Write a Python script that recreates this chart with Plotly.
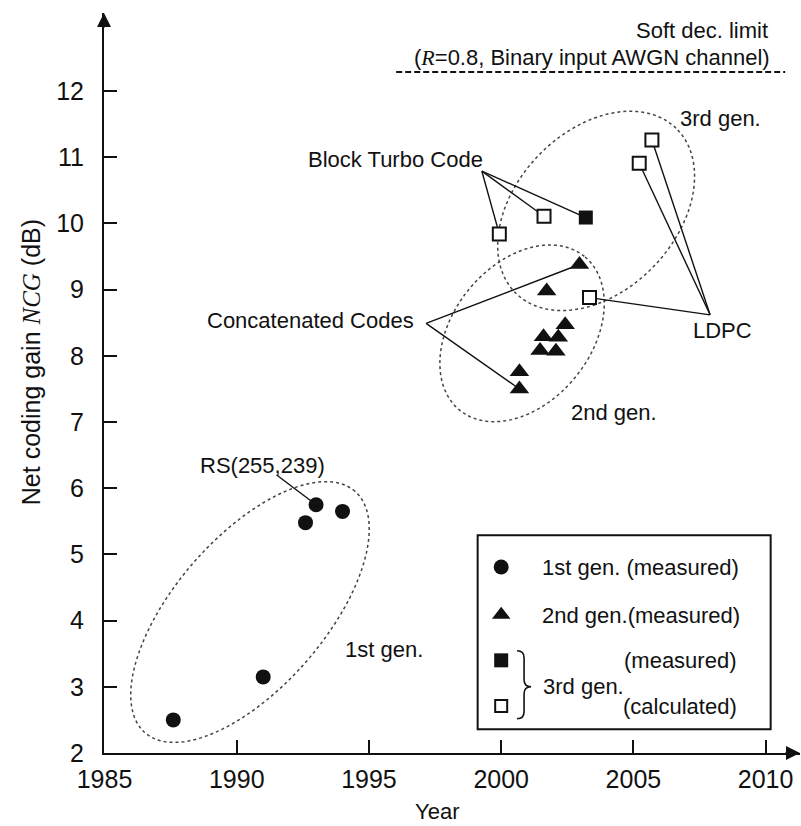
import numpy as np
import plotly.graph_objects as go

# ---------------- data ----------------
gen1_year = [1987.6, 1991.0, 1992.6, 1993.0, 1994.0]
gen1_ncg = [2.50, 3.15, 5.48, 5.75, 5.65]

gen2_year = [2002.96, 2001.72, 2002.42, 2001.60, 2002.16, 2001.47, 2002.07, 2000.69, 2000.69]
gen2_ncg = [9.38, 8.98, 8.47, 8.29, 8.28, 8.08, 8.07, 7.76, 7.50]

gen3_meas_year = [2003.20]
gen3_meas_ncg = [10.09]

gen3_calc_year = [1999.93, 2001.62, 2003.34, 2005.22, 2005.70]
gen3_calc_ncg = [9.84, 10.11, 8.88, 10.91, 11.26]

soft_limit_ncg = 12.29
soft_limit_years = [1996.03, 2010.74]

x_ticks = [1985, 1990, 1995, 2000, 2005, 2010]
y_ticks = list(range(2, 13))

# ---------------- geometry ----------------
W, H = 801, 826
M_L, M_R, M_T, M_B = 104, 1, 13, 73
X_RANGE = [1984.98, 2011.30]
Y_RANGE = [2.0, 13.18]
PX_PER_YEAR = (W - M_L - M_R) / (X_RANGE[1] - X_RANGE[0])
PX_PER_DB = (H - M_T - M_B) / (Y_RANGE[1] - Y_RANGE[0])

FONT = "Liberation Sans, Arial, sans-serif"
SERIF = "Liberation Serif, Times New Roman, serif"
INK = "#111111"


def ellipse_path(cx, cy, a_px, b_px, ang_deg, n=160):
    """Closed SVG path of a rotated ellipse, sized in screen pixels."""
    t = np.linspace(0, 2 * np.pi, n)
    th = np.radians(ang_deg)
    dx = a_px * np.cos(t) * np.cos(th) - b_px * np.sin(t) * np.sin(th)
    dy = a_px * np.cos(t) * np.sin(th) + b_px * np.sin(t) * np.cos(th)
    xs = cx + dx / PX_PER_YEAR
    ys = cy + dy / PX_PER_DB
    pts = [f"{x:.4f},{y:.4f}" for x, y in zip(xs, ys)]
    return "M" + " L".join(pts) + " Z"


def off(x, y, dx_px, dy_px):
    """Point shifted by a screen-pixel offset (dy up)."""
    return x + dx_px / PX_PER_YEAR, y + dy_px / PX_PER_DB


fig = go.Figure()

# group outlines (dotted ellipses)
shapes = []
for cx, cy, a, b, ang in [
    (1990.50, 4.13, 160, 75, 49),
    (2000.79, 8.34, 99, 69, 51),
    (2003.59, 10.19, 115, 80, 46),
]:
    shapes.append(dict(type="path", path=ellipse_path(cx, cy, a, b, ang),
                       line=dict(color="#444", width=1.5, dash="dot"),
                       layer="below"))

# leader lines from labels to marks
leaders = [
    ((1999.27, 10.79), [(gen3_calc_year[0], gen3_calc_ncg[0]),
                        (gen3_calc_year[1], gen3_calc_ncg[1]),
                        (gen3_meas_year[0], gen3_meas_ncg[0])]),
    ((1997.16, 8.49), [(gen2_year[0], gen2_ncg[0]),
                       (gen2_year[8], gen2_ncg[8])]),
    ((2007.90, 8.62), [(gen3_calc_year[2], gen3_calc_ncg[2]),
                       (gen3_calc_year[3], gen3_calc_ncg[3]),
                       (gen3_calc_year[4], gen3_calc_ncg[4])]),
    ((1991.51, 6.20), [(gen1_year[3], gen1_ncg[3])]),
]
for (ax_, ay_), targets in leaders:
    for tx, ty in targets:
        shapes.append(dict(type="line", x0=ax_, y0=ay_, x1=tx, y1=ty,
                           line=dict(color=INK, width=1.4), layer="below"))

# soft-decision limit
shapes.append(dict(type="line", x0=soft_limit_years[0], x1=soft_limit_years[1],
                   y0=soft_limit_ncg, y1=soft_limit_ncg,
                   line=dict(color=INK, width=2, dash="6px,3px")))

# legend frame
shapes.append(dict(type="rect", x0=1999.11, x1=2010.19, y0=2.36, y1=5.29,
                   line=dict(color=INK, width=2), fillcolor="white", layer="below"))

# brace grouping the two 3rd-gen legend entries
bx, by = 2001.13, 3.00
brace_pts = [(-14, 36), (-7, 36), (-7, 29), (-7, 7), (-7, 0), (0, 0),
             (-7, 0), (-7, -7), (-7, -25), (-7, -32), (-14, -32)]
bp = [off(bx, by, dx, dy) for dx, dy in brace_pts]
f = lambda p: f"{p[0]:.4f},{p[1]:.4f}"
brace = (f"M{f(bp[0])} Q{f(bp[1])} {f(bp[2])} L{f(bp[3])} Q{f(bp[4])} {f(bp[5])} "
         f"Q{f(bp[6])} {f(bp[7])} L{f(bp[8])} Q{f(bp[9])} {f(bp[10])}")
shapes.append(dict(type="path", path=brace, line=dict(color=INK, width=1.6)))

# ---------------- marks ----------------
fig.add_trace(go.Scatter(x=gen1_year, y=gen1_ncg, mode="markers", name="1st gen. (measured)",
                         marker=dict(symbol="circle", size=15, color=INK), cliponaxis=False))
fig.add_trace(go.Scatter(x=gen2_year, y=gen2_ncg, mode="markers", name="2nd gen.(measured)",
                         marker=dict(symbol="triangle-up", size=17, color=INK), cliponaxis=False))
fig.add_trace(go.Scatter(x=gen3_meas_year, y=gen3_meas_ncg, mode="markers", name="3rd gen. (measured)",
                         marker=dict(symbol="square", size=14, color=INK), cliponaxis=False))
fig.add_trace(go.Scatter(x=gen3_calc_year, y=gen3_calc_ncg, mode="markers", name="3rd gen. (calculated)",
                         marker=dict(symbol="square", size=13, color="white",
                                     line=dict(color=INK, width=2)), cliponaxis=False))

# legend glyphs
leg_x = 2000.0
fig.add_trace(go.Scatter(x=[leg_x], y=[4.81], mode="markers", showlegend=False,
                         marker=dict(symbol="circle", size=15, color=INK)))
fig.add_trace(go.Scatter(x=[leg_x], y=[4.09], mode="markers", showlegend=False,
                         marker=dict(symbol="triangle-up", size=16, color=INK)))
fig.add_trace(go.Scatter(x=[leg_x], y=[3.40], mode="markers", showlegend=False,
                         marker=dict(symbol="square", size=14, color=INK)))
fig.add_trace(go.Scatter(x=[leg_x], y=[2.71], mode="markers", showlegend=False,
                         marker=dict(symbol="square", size=12, color="white",
                                     line=dict(color=INK, width=2))))

# ---------------- text ----------------
def label(text, x, y, xanchor="center", size=22):
    return dict(text=text, x=x, y=y, xref="x", yref="y", showarrow=False,
                xanchor=xanchor, yanchor="middle",
                font=dict(family=FONT, size=size, color=INK))

annotations = [
    label("Soft dec. limit", 2010.17, 12.91, "right"),
    label(f"(<span style='font-family:{SERIF}'><i>R</i></span>=0.8, Binary input AWGN channel)",
          2010.25, 12.51, "right"),
    label("3rd gen.", 2008.28, 11.59),
    label("Block Turbo Code", 1995.99, 10.96),
    label("Concatenated Codes", 1996.79, 8.54, "right"),
    label("LDPC", 2008.36, 8.39),
    label("2nd gen.", 2004.27, 7.14),
    label("RS(255,239)", 1990.99, 6.35),
    label("1st gen.", 1995.57, 3.56),
    label("1st gen. (measured)", 2001.45, 4.81, "left"),
    label("2nd gen.(measured)", 2001.45, 4.07, "left"),
    label("3rd gen.", 2001.50, 3.00, "left"),
    label("(measured)", 2008.95, 3.40, "right"),
    label("(calculated)", 2008.98, 2.71, "right"),
    # axis titles
    dict(text="Year", x=0.478, y=-0.0797, xref="paper", yref="paper", showarrow=False,
         xanchor="center", yanchor="middle", font=dict(family=FONT, size=22, color=INK)),
    dict(text=f"Net coding gain <span style='font-family:{SERIF}'><i>NCG</i></span> (dB)",
         x=-0.105, y=0.528, xref="paper", yref="paper",
         showarrow=False, textangle=-90, xanchor="center", yanchor="middle",
         font=dict(family=FONT, size=25, color=INK)),
    # axis arrowheads
    dict(text="", x=0, y=1, xref="paper", yref="paper", ax=0, ay=16, axref="pixel",
         ayref="pixel", showarrow=True, arrowhead=2, arrowsize=1.4, arrowwidth=2,
         arrowcolor=INK),
    dict(text="", x=1, y=0, xref="paper", yref="paper", ax=-16, ay=0, axref="pixel",
         ayref="pixel", showarrow=True, arrowhead=2, arrowsize=1.4, arrowwidth=2,
         arrowcolor=INK),
]

axis_common = dict(showline=True, linewidth=2, linecolor=INK, showgrid=False, zeroline=False,
                   ticks="inside", ticklen=13, tickwidth=2, tickcolor=INK,
                   tickfont=dict(family=FONT, size=25, color=INK))

fig.update_layout(
    width=W, height=H,
    margin=dict(l=M_L, r=M_R, t=M_T, b=M_B),
    paper_bgcolor="white", plot_bgcolor="white",
    showlegend=False,
    shapes=shapes,
    annotations=annotations,
    xaxis=dict(range=X_RANGE, tickvals=x_ticks, ticklabelstandoff=3, **axis_common),
    yaxis=dict(range=Y_RANGE, tickvals=y_ticks, ticklabelstandoff=13, **axis_common),
)

fig.write_html("out.html")
